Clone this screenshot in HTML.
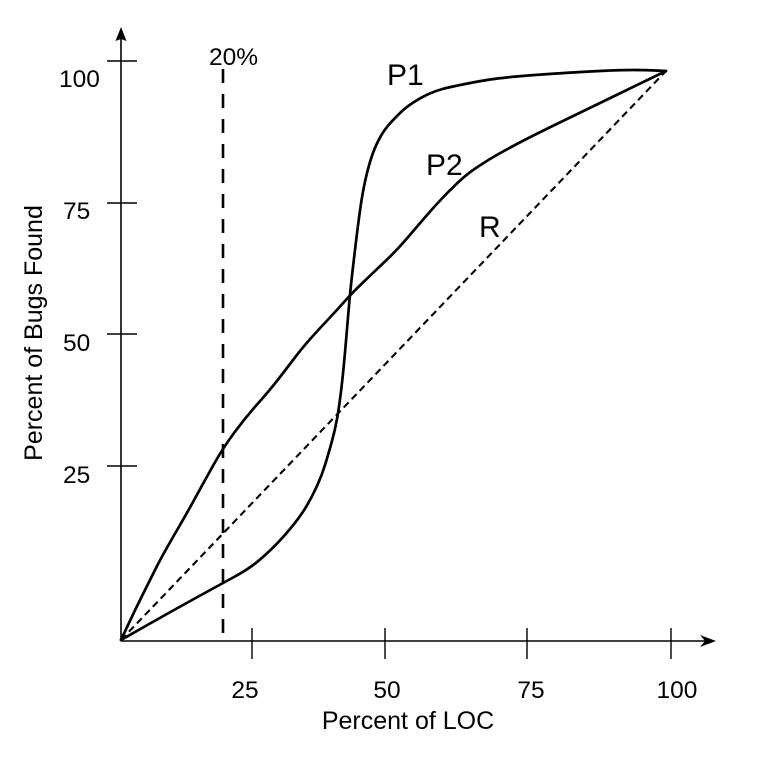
<!DOCTYPE html>
<html><head><meta charset="utf-8"><style>
html,body{margin:0;padding:0;background:#fff;}
svg{display:block;}
text{font-family:"Liberation Sans",Arial,sans-serif;fill:#000;}
</style></head><body>
<svg width="764" height="762" viewBox="0 0 764 762" xmlns="http://www.w3.org/2000/svg">
<rect width="764" height="762" fill="#fff"/>
<!-- axes -->
<line x1="121" y1="36" x2="121" y2="641" stroke="#000" stroke-width="1.6"/>
<line x1="121" y1="641" x2="708" y2="641" stroke="#000" stroke-width="1.6"/>
<path d="M121,27 L115.5,41 L121,39 L126.5,41 Z" fill="#000"/>
<path d="M716,641 L700,635 L705,641 L700,647 Z" fill="#000"/>
<!-- ticks -->
<g stroke="#000" stroke-width="1.4">
<line x1="107" y1="61" x2="137" y2="61"/>
<line x1="107" y1="203" x2="137" y2="203"/>
<line x1="107" y1="334" x2="137" y2="334"/>
<line x1="107" y1="466" x2="137" y2="466"/>
<line x1="252" y1="628" x2="252" y2="659"/>
<line x1="385" y1="628" x2="385" y2="659"/>
<line x1="527" y1="628" x2="527" y2="659"/>
<line x1="671" y1="628" x2="671" y2="659"/>
</g>
<!-- tick labels -->
<g font-size="24.5">
<text x="59" y="87">100</text>
<text x="63" y="219">75</text>
<text x="63" y="351">50</text>
<text x="63" y="483">25</text>
<text x="245" y="698" text-anchor="middle">25</text>
<text x="387" y="698" text-anchor="middle">50</text>
<text x="531" y="698" text-anchor="middle">75</text>
<text x="677" y="698" text-anchor="middle">100</text>
<text x="209" y="65">20%</text>
</g>
<text x="408" y="729" font-size="25" text-anchor="middle">Percent of LOC</text>
<text transform="translate(42,333) rotate(-90)" font-size="25" text-anchor="middle">Percent of Bugs Found</text>
<!-- curve labels -->
<g font-size="30">
<text x="387" y="85">P1</text>
<text x="426" y="175">P2</text>
<text x="479" y="237">R</text>
</g>
<!-- 20% dashed line -->
<line x1="223" y1="69" x2="223" y2="633" stroke="#000" stroke-width="2.6" stroke-dasharray="14,11"/>
<!-- R dashed -->
<line x1="121" y1="640" x2="666" y2="71" stroke="#000" stroke-width="2.1" stroke-dasharray="7,4.5"/>
<!-- P1 -->
<path fill="none" stroke="#000" stroke-width="2.7" stroke-linejoin="round" stroke-linecap="round" d="M121,640 L146.5,625.5 Q172,611 197.5,597 Q223,583 234,577 Q245,571 252.5,565.5 Q260,560 270,550.5 Q280,541 290,529 Q300,517 306,507 Q312,497 317,486 Q322,475 325.5,463.5 Q329,452 332,441 Q335,430 337,419 Q339,408 341,391.5 Q343,375 345,352.5 Q347,330 348.5,311.5 Q350,293 352,275.5 Q354,258 356,241.5 Q358,225 360,210.5 Q362,196 364.5,184 Q367,172 370,162 Q373,152 376.5,144.5 Q380,137 383,132.5 Q386,128 389.5,124 Q393,120 399,114 Q405,108 412.5,103 Q420,98 427.5,94.5 Q435,91 442.5,89 Q450,87 465,84 Q480,81 490,79.5 Q500,78 516.5,76.5 Q533,75 556.5,73.5 Q580,72 600,71 Q620,70 632.5,70 Q645,70 655.5,70.5 L666,71"/>
<!-- P2 -->
<path fill="none" stroke="#000" stroke-width="2.7" stroke-linejoin="round" stroke-linecap="round" d="M121,640 L128,625 Q135,610 142.5,595 Q150,580 155,570 Q160,560 166.5,548.5 Q173,537 180,525 Q187,513 196,496.5 Q205,480 214,464 Q223,448 234,433 Q245,418 257.5,404 Q270,390 280,377 Q290,364 296.5,355.5 Q303,347 311.5,337.5 Q320,328 328.5,319 Q337,310 345,301 Q353,292 364,281.5 Q375,271 386,260.5 Q397,250 406,239.5 Q415,229 424,218.5 Q433,208 441.5,199 Q450,190 458.5,182 Q467,174 476,168 Q485,162 492.5,157.5 Q500,153 515,145 Q530,137 548.5,128 Q567,119 583.5,111 Q600,103 616.5,95 Q633,87 649.5,79 L666,71"/>
</svg>
</body></html>
